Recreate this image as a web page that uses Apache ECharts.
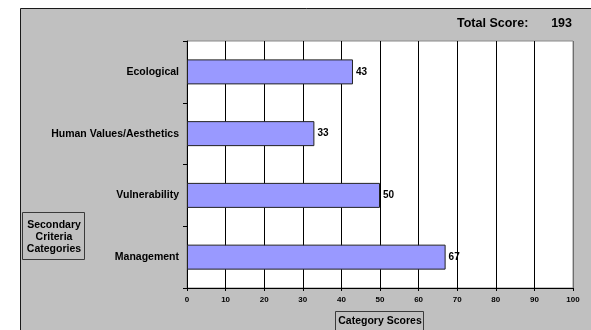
<!DOCTYPE html>
<html>
<head>
<meta charset="utf-8">
<script src="https://cdn.jsdelivr.net/npm/echarts@6/dist/echarts.min.js"></script>
<style>
  html, body { margin: 0; padding: 0; background: #fff; }
  #chart { width: 591px; height: 330px; }
</style>
</head>
<body>
<div id="chart"></div>
<script>
// Secondary criteria categories, top to bottom
const categories = ['Ecological', 'Human Values/Aesthetics', 'Vulnerability', 'Management'];
// Score for each category
const scores = [43, 33, 50, 67];
// Value-axis ticks
const scoreMin = 0;
const scoreMax = 100;
const scoreStep = 10;
const totalLabel = 'Total Score:';
const totalScore = scores.reduce((a, b) => a + b, 0);

const FONT = '"Liberation Sans", Arial, sans-serif';

// Vertical grid lines: black inside, grey at the right-hand edge
const splitColors = [];
for (let v = scoreMin; v <= scoreMax; v += scoreStep) {
  splitColors.push(v === scoreMax ? '#6e6e6e' : '#000000');
}

const chart = echarts.init(document.getElementById('chart'), null, { renderer: 'canvas' });

chart.setOption({
  animation: false,
  backgroundColor: '#ffffff',
  textStyle: { fontFamily: FONT },
  graphic: [
    // grey chart area with dark frame
    {
      type: 'rect', z: -10, silent: true,
      shape: { x: 20.5, y: 8.5, width: 600, height: 340 },
      style: { fill: '#c0c0c0', stroke: '#1a1a1a', lineWidth: 1 }
    },
    {
      type: 'text', z: 10,
      style: { x: 457, y: 24, text: totalLabel, fill: '#000', font: 'bold 12.5px ' + FONT, verticalAlign: 'middle' }
    },
    {
      type: 'text', z: 10,
      style: { x: 572, y: 24, text: String(totalScore), fill: '#000', font: 'bold 12.5px ' + FONT, align: 'right', verticalAlign: 'middle' }
    },
    // axis title for the categories
    {
      type: 'rect', z: 5,
      shape: { x: 22.5, y: 212.5, width: 62, height: 47 },
      style: { fill: '#c0c0c0', stroke: '#3a3a3a', lineWidth: 1 }
    },
    {
      type: 'text', z: 10,
      style: {
        x: 54, y: 237, text: 'Secondary\nCriteria\nCategories', fill: '#000',
        font: 'bold 10.5px ' + FONT, align: 'center', verticalAlign: 'middle', lineHeight: 12
      }
    },
    // axis title for the scores
    {
      type: 'rect', z: 5,
      shape: { x: 335.5, y: 311.5, width: 88, height: 30 },
      style: { fill: '#c0c0c0', stroke: '#3a3a3a', lineWidth: 1 }
    },
    {
      type: 'text', z: 10,
      style: { x: 380, y: 321, text: 'Category Scores', fill: '#000', font: 'bold 10.5px ' + FONT, align: 'center', verticalAlign: 'middle' }
    }
  ],
  grid: {
    left: 187, top: 41, right: 18, bottom: 42,
    show: true, backgroundColor: '#ffffff', borderColor: '#8a8a8a', borderWidth: 1
  },
  xAxis: {
    type: 'value',
    min: scoreMin, max: scoreMax, interval: scoreStep,
    axisLine: { show: true, onZero: false, lineStyle: { color: '#000', width: 1 } },
    axisTick: { show: true, length: 3, lineStyle: { color: '#000' } },
    axisLabel: { color: '#000', fontSize: 8, fontWeight: 'bold', fontFamily: FONT, margin: 8 },
    splitLine: { show: true, lineStyle: { color: splitColors, width: 1 } }
  },
  yAxis: {
    type: 'category',
    data: categories,
    inverse: true,
    boundaryGap: true,
    axisLine: { show: true, lineStyle: { color: '#000', width: 1 } },
    axisTick: { show: true, length: 4, lineStyle: { color: '#000' } },
    axisLabel: { color: '#000', fontSize: 10.5, fontWeight: 'bold', fontFamily: FONT, margin: 8 },
    splitLine: { show: false }
  },
  series: [{
    type: 'bar',
    data: scores,
    barWidth: 25,
    itemStyle: { color: '#9999ff', borderColor: '#222', borderWidth: 1 },
    label: {
      show: true, position: 'right', distance: 3,
      color: '#000', fontSize: 10, fontWeight: 'bold', fontFamily: FONT
    }
  }]
});
</script>
</body>
</html>
